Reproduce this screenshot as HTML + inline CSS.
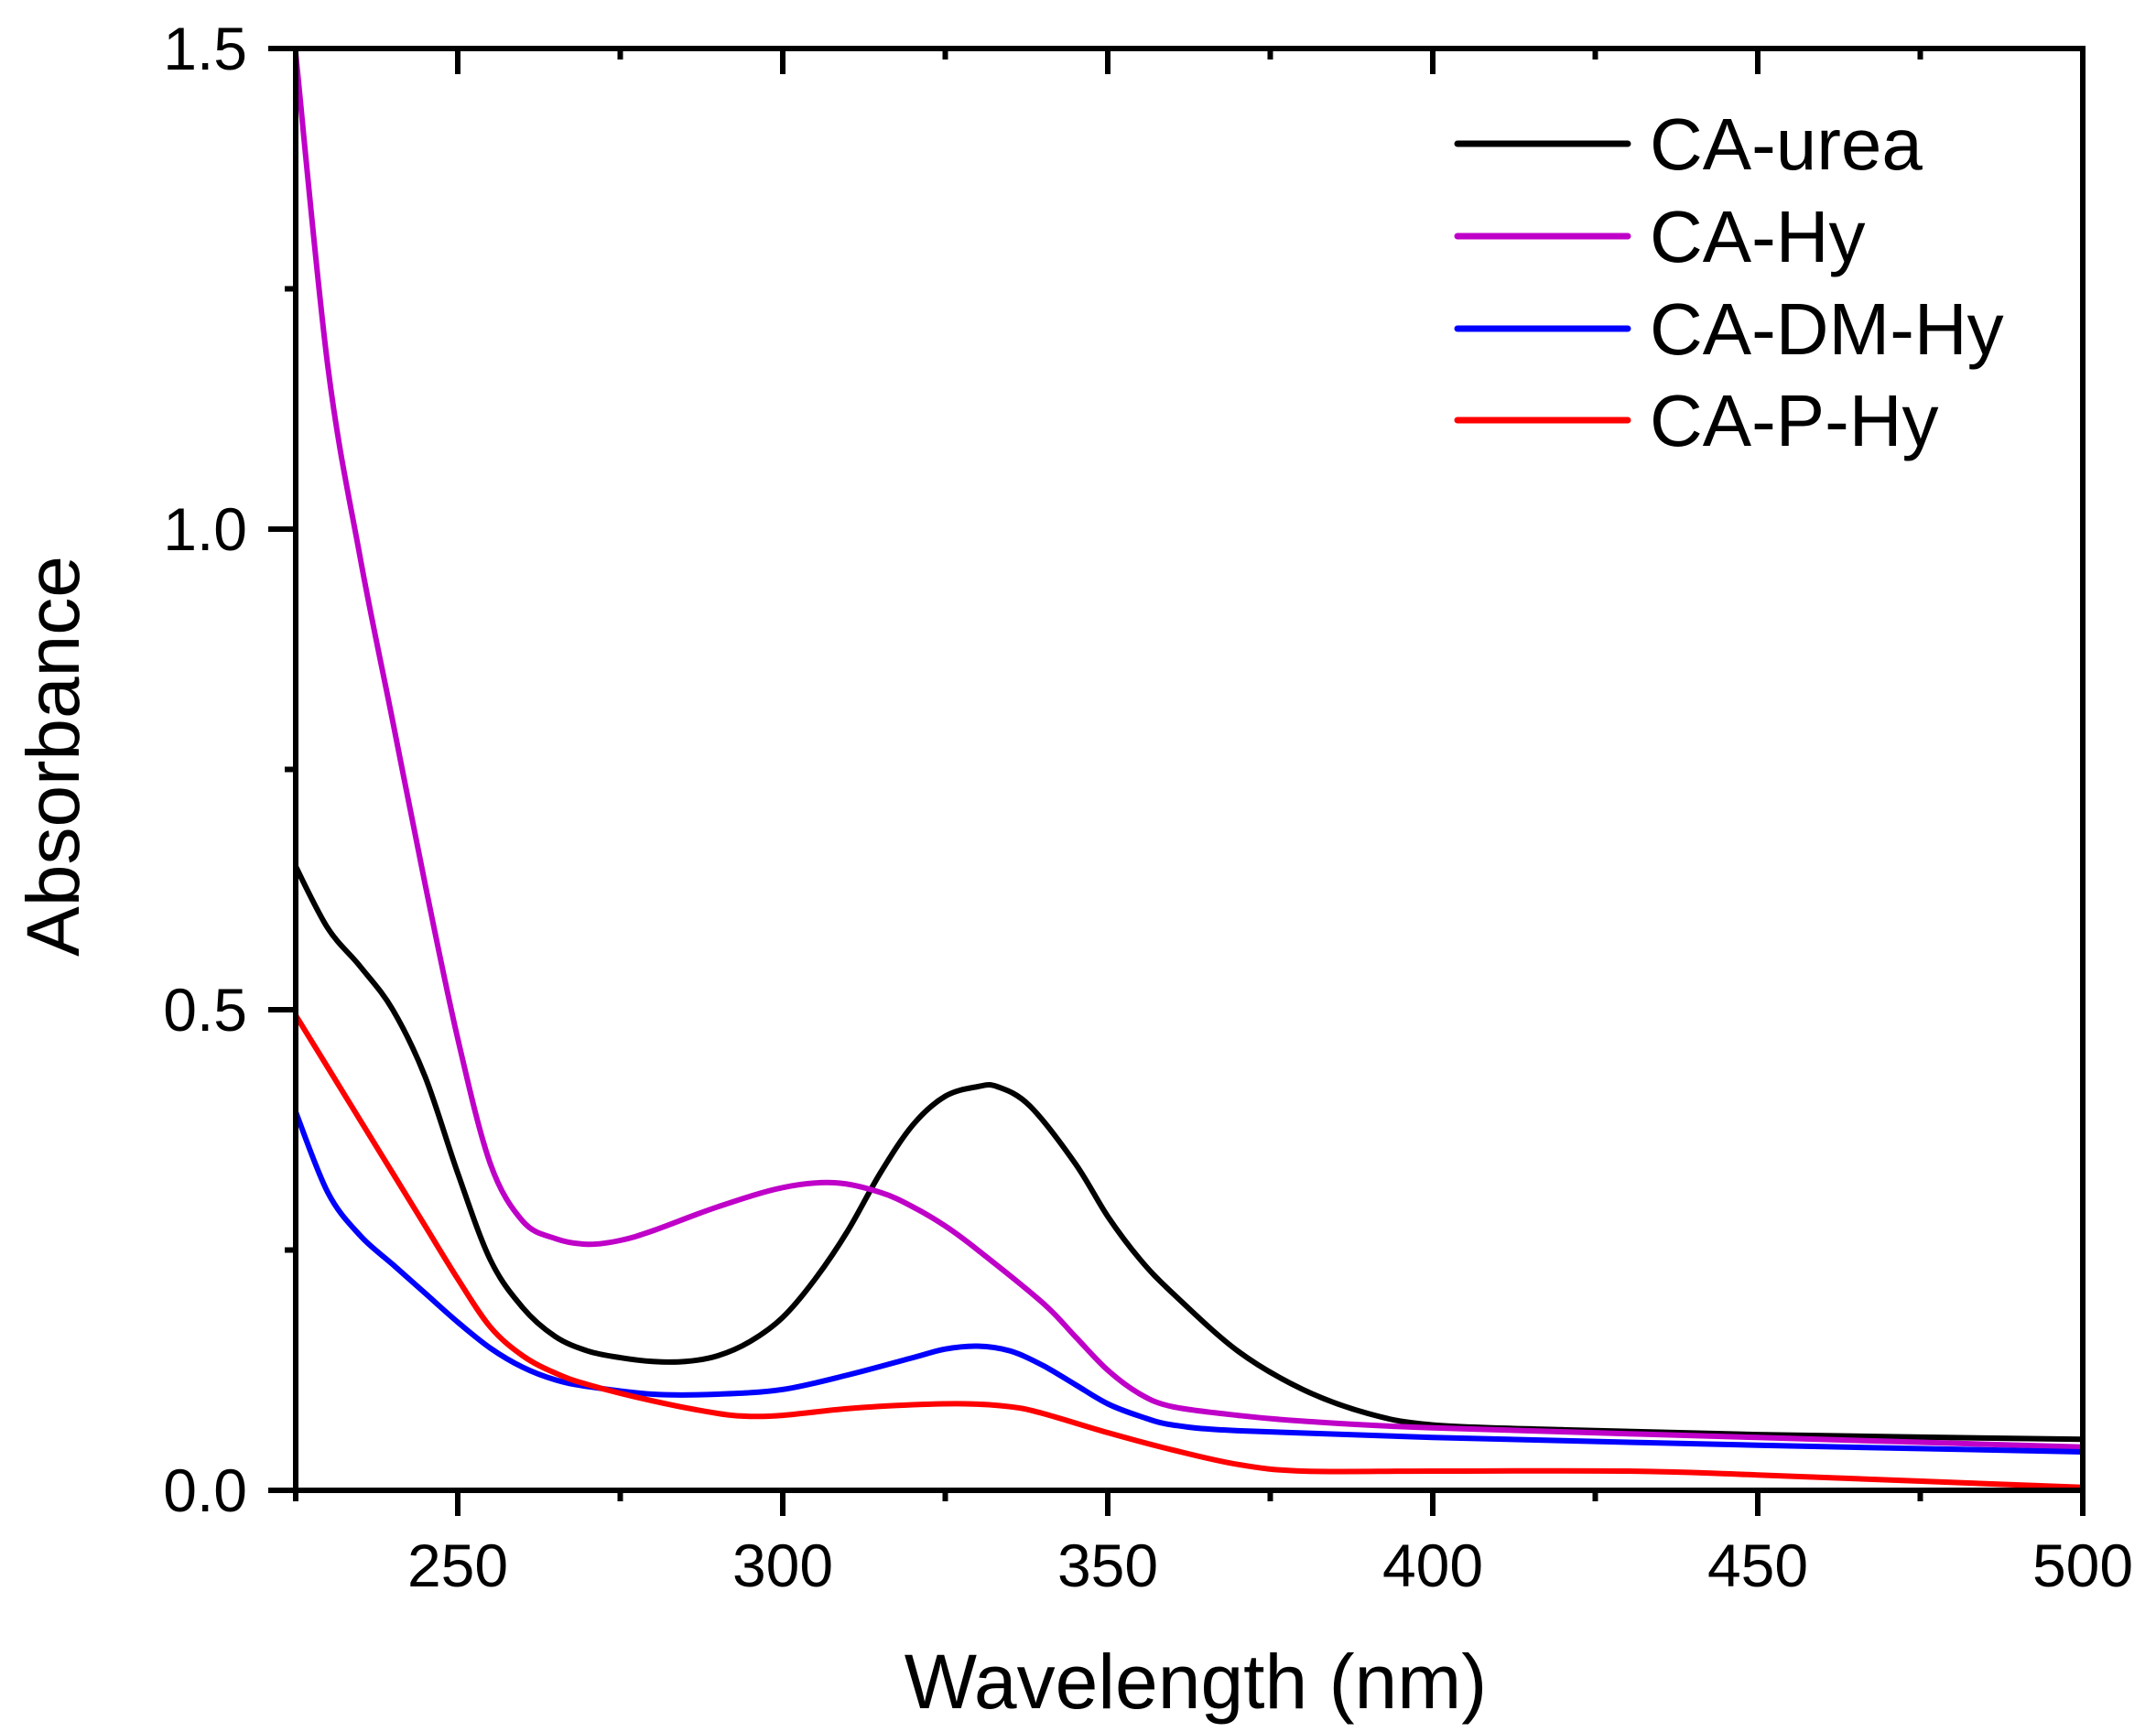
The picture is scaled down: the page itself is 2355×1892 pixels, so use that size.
<!DOCTYPE html>
<html><head><meta charset="utf-8"><style>
html,body{margin:0;padding:0;background:#fff;}
svg{display:block;font-family:"Liberation Sans",Arial,sans-serif;}
</style></head><body>
<svg id="s" width="2355" height="1892" viewBox="0 0 2355 1892" xmlns="http://www.w3.org/2000/svg">
<rect width="2355" height="1892" fill="#fff"/>
<defs><clipPath id="c"><rect x="323" y="53" width="1952" height="1575"/></clipPath></defs>
<g clip-path="url(#c)" fill="none" stroke-width="6" stroke-linejoin="round" stroke-linecap="round">
<path id="p0" stroke="#000"/>
<path id="p1" stroke="#bf00c8"/>
<path id="p2" stroke="#0000ff"/>
<path id="p3" stroke="#ff0000"/>
</g>
<g stroke="#000" stroke-width="6" fill="none">
<rect x="323" y="53" width="1952" height="1575"/>
<path d="M323,1628v12 M500,1628v28 M677.5,1628v12 M855,1628v28 M1032.5,1628v12 M1210,1628v28 M1387.5,1628v12 M1565,1628v28 M1742.5,1628v12 M1920,1628v28 M2097.5,1628v12 M2275,1628v28"/>
<path d="M500,53v28 M677.5,53v12 M855,53v28 M1032.5,53v12 M1210,53v28 M1387.5,53v12 M1565,53v28 M1742.5,53v12 M1920,53v28 M2097.5,53v12"/>
<path d="M323,1628h-30 M323,1365.5h-12 M323,1103h-30 M323,840.5h-12 M323,578h-30 M323,315.5h-12 M323,53h-30"/>
</g>
<g font-size="66" fill="#000" text-anchor="middle">
<text x="500" y="1733">250</text><text x="855" y="1733">300</text><text x="1210" y="1733">350</text><text x="1565" y="1733">400</text><text x="1920" y="1733">450</text><text x="2275" y="1733">500</text>
</g>
<g font-size="66" fill="#000" text-anchor="end">
<text x="270" y="1651">0.0</text><text x="270" y="1126">0.5</text><text x="270" y="601">1.0</text><text x="270" y="76">1.5</text>
</g>
<text x="1306" y="1866" font-size="84" text-anchor="middle">Wavelength (nm)</text>
<text transform="translate(86,826) rotate(-90)" font-size="82" text-anchor="middle">Absorbance</text>
<g stroke-width="7" stroke-linecap="round">
<line x1="1592" y1="157" x2="1778" y2="157" stroke="#000"/>
<line x1="1592" y1="258" x2="1778" y2="258" stroke="#bf00c8"/>
<line x1="1592" y1="359" x2="1778" y2="359" stroke="#0000ff"/>
<line x1="1592" y1="459" x2="1778" y2="459" stroke="#ff0000"/>
</g>
<g font-size="80" fill="#000">
<text x="1802" y="185">CA-urea</text><text x="1802" y="286">CA-Hy</text><text x="1802" y="387">CA-DM-Hy</text><text x="1802" y="487">CA-P-Hy</text>
</g>
</svg>
<script>
var D=[
[[225,0.65],[230,0.585],[235,0.545],[240,0.5],[245,0.43],[250,0.33],[255,0.24],[260,0.19],[265,0.16],[270,0.145],[275,0.138],[280,0.134],[285,0.134],[290,0.14],[295,0.155],[300,0.18],[305,0.22],[310,0.27],[315,0.33],[320,0.38],[325,0.41],[330,0.42],[333,0.42],[338,0.40],[345,0.34],[350,0.285],[355,0.24],[360,0.205],[370,0.145],[380,0.105],[390,0.08],[400,0.068],[420,0.063],[450,0.058],[500,0.053]],
[[225,1.5],[230,1.17],[235,0.97],[240,0.8],[245,0.63],[250,0.47],[255,0.34],[260,0.28],[265,0.262],[270,0.256],[275,0.26],[280,0.27],[290,0.295],[300,0.315],[308,0.32],[315,0.31],[320,0.295],[325,0.275],[330,0.25],[340,0.195],[345,0.16],[350,0.125],[355,0.1],[360,0.087],[370,0.078],[380,0.072],[400,0.065],[450,0.055],[500,0.045]],
[[225,0.395],[230,0.31],[235,0.265],[240,0.235],[245,0.205],[250,0.175],[255,0.148],[260,0.128],[265,0.115],[270,0.108],[280,0.1],[290,0.1],[300,0.105],[310,0.12],[320,0.138],[325,0.147],[330,0.15],[335,0.145],[340,0.13],[345,0.11],[350,0.09],[355,0.077],[360,0.068],[370,0.062],[400,0.055],[450,0.047],[500,0.04]],
[[225,0.495],[230,0.44],[235,0.385],[240,0.33],[245,0.275],[250,0.22],[255,0.17],[260,0.14],[265,0.122],[270,0.11],[280,0.093],[290,0.08],[295,0.077],[300,0.078],[310,0.085],[320,0.089],[328,0.09],[335,0.087],[340,0.08],[350,0.06],[360,0.042],[370,0.027],[380,0.02],[400,0.02],[430,0.02],[450,0.016],[500,0.003]]];
function X(v){return 322.5+(v-225)*7.1}function Y(v){return 1628-v*1050}
D.forEach(function(a,k){var p=a.map(function(q){return [X(q[0]),Y(q[1])]});
var d="M"+p[0][0].toFixed(1)+","+p[0][1].toFixed(1);
for(var i=0;i<p.length-1;i++){var p0=p[Math.max(0,i-1)],p1=p[i],p2=p[i+1],p3=p[Math.min(p.length-1,i+2)];
var c1x=p1[0]+(p2[0]-p0[0])/6,c1y=p1[1]+(p2[1]-p0[1])/6,c2x=p2[0]-(p3[0]-p1[0])/6,c2y=p2[1]-(p3[1]-p1[1])/6;
d+=" C"+c1x.toFixed(1)+","+c1y.toFixed(1)+" "+c2x.toFixed(1)+","+c2y.toFixed(1)+" "+p2[0].toFixed(1)+","+p2[1].toFixed(1);}
document.getElementById("p"+k).setAttribute("d",d);});
</script>
</body></html>
